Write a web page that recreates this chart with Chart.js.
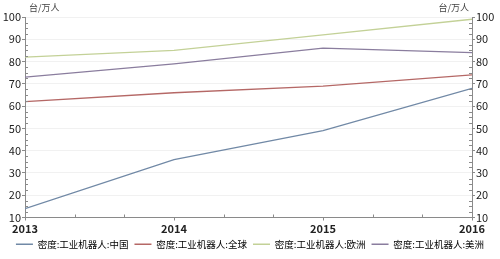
<!DOCTYPE html>
<html>
<head>
<meta charset="utf-8">
<script src="https://cdn.jsdelivr.net/npm/chart.js@4/dist/chart.umd.min.js"></script>
<style>
  html, body { margin: 0; padding: 0; background: #fff; }
  #wrap { width: 500px; height: 259px; }
</style>
</head>
<body>
<div id="wrap"><canvas id="c" width="500" height="259"></canvas></div>
<script>
// data
const years = [2013, 2014, 2015, 2016];
const china = [14, 36, 49, 68];
const world = [62, 66, 69, 74];
const europe = [82, 85, 92, 99];
const america = [73, 79, 86, 84];
const seriesNames = ['密度:工业机器人:中国', '密度:工业机器人:全球', '密度:工业机器人:欧洲', '密度:工业机器人:美洲'];
const unitLabel = '台/万人';

const FONT = "'Noto Sans CJK SC', 'Noto Sans', sans-serif";
const AXIS = '#8a8a8a';

function pts(vals) {
  return years.map((y, i) => ({ x: y, y: vals[i] }));
}

// small inside ticks + unit labels
const extras = {
  id: 'extras',
  afterDraw(chart) {
    const ctx = chart.ctx;
    const x = chart.scales.x, y = chart.scales.y;
    const a = chart.chartArea;
    ctx.save();
    ctx.strokeStyle = AXIS;
    ctx.lineWidth = 1;
    ctx.beginPath();
    for (let v = 10; v <= 100; v += 2.5) {
      if (v % 10 === 0) continue;
      const py = Math.round(y.getPixelForValue(v)) + 0.5;
      ctx.moveTo(a.left, py); ctx.lineTo(a.left + 3, py);
      ctx.moveTo(a.right, py); ctx.lineTo(a.right - 3, py);
    }
    for (let i = 0; i < years.length - 1; i++) {
      for (let k = 1; k < 3; k++) {
        const px = Math.round(x.getPixelForValue(years[i] + k / 3)) + 0.5;
        ctx.moveTo(px, a.bottom); ctx.lineTo(px, a.bottom - 3);
      }
    }
    ctx.stroke();
    ctx.fillStyle = '#444';
    ctx.font = '9px ' + FONT;
    ctx.textBaseline = 'middle';
    ctx.textAlign = 'left';
    ctx.fillText(unitLabel, a.left + 4, 8);
    ctx.textAlign = 'right';
    ctx.fillText(unitLabel, a.right - 3, 8);
    ctx.restore();
  }
};

const colors = ['#7189a6', '#b56866', '#c3d197', '#8a7d9e'];
const all = [china, world, europe, america];

new Chart(document.getElementById('c'), {
  type: 'line',
  data: {
    datasets: all.map((vals, i) => ({
      label: seriesNames[i],
      data: pts(vals),
      borderColor: colors[i],
      backgroundColor: colors[i],
      borderWidth: 1.3,
      pointRadius: 0,
      tension: 0,
      yAxisID: 'y'
    }))
  },
  options: {
    responsive: false,
    animation: false,
    layout: { padding: { top: 17, left: 0, right: 0, bottom: 0 } },
    plugins: {
      legend: {
        position: 'bottom',
        labels: {
          font: { family: FONT, size: 9.5 },
          color: '#333',
          boxWidth: 17,
          boxHeight: 0,
          padding: 6,
          generateLabels(chart) {
            return chart.data.datasets.map((d, i) => ({
              text: d.label,
              strokeStyle: d.borderColor,
              fillStyle: d.borderColor,
              lineWidth: 1.3,
              datasetIndex: i
            }));
          }
        }
      },
      tooltip: { enabled: false }
    },
    scales: {
      x: {
        type: 'linear',
        min: 2013,
        max: 2016,
        afterFit(s) { s.height = 16; },
        ticks: {
          stepSize: 1,
          color: '#222',
          font: { family: FONT, size: 11, weight: 'bold' },
          padding: 2,
          maxRotation: 0,
          callback: v => Number.isInteger(v) ? String(v) : ''
        },
        grid: { drawOnChartArea: false, tickLength: 3, color: AXIS },
        border: { color: AXIS }
      },
      y: {
        position: 'left',
        min: 10,
        max: 100,
        afterFit(s) { s.width = 25; },
        ticks: { stepSize: 10, color: '#222', font: { family: FONT, size: 11 }, padding: 1 },
        grid: { color: '#f1f1f1', tickColor: AXIS, tickLength: 3 },
        border: { color: AXIS }
      },
      y2: {
        position: 'right',
        min: 10,
        max: 100,
        afterFit(s) { s.width = 28; },
        ticks: { stepSize: 10, color: '#222', font: { family: FONT, size: 11 }, padding: 1 },
        grid: { drawOnChartArea: false, tickColor: AXIS, tickLength: 3 },
        border: { color: AXIS }
      }
    }
  },
  plugins: [extras]
});
</script>
</body>
</html>
